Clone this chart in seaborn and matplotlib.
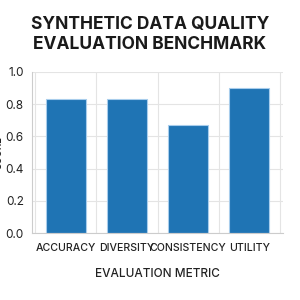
import matplotlib
matplotlib.use("Agg")
import matplotlib.pyplot as plt
import seaborn as sns
import pandas as pd

metrics = ["ACCURACY", "DIVERSITY", "CONSISTENCY", "UTILITY"]
scores = [0.83, 0.83, 0.67, 0.90]

sns.set_style("whitegrid")
plt.rcParams['font.family'] = ['Inter', 'DejaVu Sans']

df = pd.DataFrame({"metric": metrics, "score": scores})

fig = plt.figure(figsize=(3, 3), dpi=100)
ax = fig.add_axes([0.107, 0.223, 0.836, 0.537])
sns.barplot(data=df, x="metric", y="score", color="#1f74b4", saturation=1, width=0.65,
            edgecolor="#a8cdec", linewidth=0.8, ax=ax)

ax.set_ylim(0, 1.0)
ax.set_xlim(-0.55, 3.55)
ax.set_yticks([0, 0.2, 0.4, 0.6, 0.8, 1.0])
ax.set_yticklabels(["0.0", "0.2", "0.4", "0.6", "0.8", "1.0"], fontsize=8.5, color="#222222")
ax.set_xticks(range(len(metrics)))
ax.set_xticklabels(metrics, fontsize=7.6, fontweight="medium", color="#222222")
ax.set_xticks([-0.5, 0.5, 1.5, 2.5, 3.5], minor=True)
ax.grid(False, axis="x", which="major")
ax.grid(True, axis="x", which="minor", color="#e4e4e4", linewidth=0.8)
ax.grid(True, axis="y", color="#e4e4e4", linewidth=0.8)
ax.tick_params(axis="x", which="both", length=0, pad=7)
ax.tick_params(axis="y", length=4, width=0.8, color="#bbbbbb", pad=2)

for side in ["top", "right"]:
    ax.spines[side].set_visible(False)
for side in ["left", "bottom"]:
    ax.spines[side].set_color("#cccccc")
    ax.spines[side].set_linewidth(0.8)

ax.set_xlabel("EVALUATION METRIC", fontsize=8.5, fontweight="medium", color="#222222", labelpad=11)
ax.set_ylabel("SCORE", fontsize=7, fontweight="medium", color="#222222")
ax.yaxis.set_label_coords(-0.113, 0.5)
fig.text(0.5, 0.885, "SYNTHETIC DATA QUALITY\nEVALUATION BENCHMARK", ha="center", va="center",
         fontsize=12.5, fontweight="bold", color="#1a1a1a", linespacing=1.3)

fig.savefig("out.png", dpi=100)
